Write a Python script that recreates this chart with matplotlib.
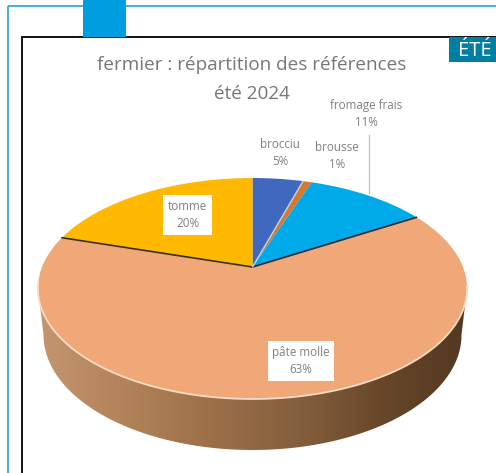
import numpy as np
import matplotlib
matplotlib.use("Agg")
import matplotlib.pyplot as plt
from matplotlib.colors import LinearSegmentedColormap
from matplotlib.patches import Polygon, Rectangle
from matplotlib.transforms import Transform

plt.rcParams['font.family'] = ['Open Sans', 'DejaVu Sans']

categories = ['brocciu', 'brousse', 'fromage frais', 'pâte molle', 'tomme']
# the labels show them rounded
shares = [4.6, 0.8, 11.0, 63.3, 20.3]
shown = [5, 1, 11, 63, 20]
colors = ['#4068BE', '#D9772F', '#00A9E8', '#F0A878', '#FFB900']
title_lines = ['fermier : répartition des références', 'été 2024']

# where the tilted pie sits in the page, in pixels
APEX_X, APEX_Y = 252.5, 267
RX, RY, TILT = 210.5, 106.3, 0.1946


class TiltTransform(Transform):
    """Perspective view of the unit circle, seen from the front."""
    input_dims = output_dims = 2

    def transform_non_affine(self, values):
        x, y = values[:, 0], values[:, 1]
        w = 1 + TILT * y
        return np.column_stack([APEX_X + RX * x / w, APEX_Y - RY * y / w])


def tilt_point(angle):
    # angle in degrees, clockwise from twelve o'clock
    a = np.radians(angle)
    return TiltTransform().transform(np.array([[np.sin(a), np.cos(a)]]))[0]


fig = plt.figure(figsize=(4.96, 4.73), dpi=100)
ax = fig.add_axes([0, 0, 1, 1])

# side wall of the pie with its left to right shading
wall_cmap = LinearSegmentedColormap.from_list(
    'wall', ['#C49670', '#B28358', '#9C7049', '#85603E', '#684729', '#543822'])
t = np.linspace(np.pi, 2 * np.pi, 120)
wall_pts = np.column_stack([252.5 + 209 * np.cos(t), 335 - 115 * np.sin(t)])
wall_pts = np.vstack([[38, 288], wall_pts, [467, 288]])
wall = Polygon(wall_pts, closed=True, fc='none', ec='none')
ax.add_patch(wall)
grad = ax.imshow(np.linspace(0, 1, 256).reshape(1, -1), cmap=wall_cmap, aspect='auto',
                 extent=(38, 467, 452, 285), zorder=1)
grad.set_clip_path(wall)

wedges, _ = ax.pie(shares, colors=colors, startangle=90, counterclock=False,
                   wedgeprops={'linewidth': 0})
tilt = TiltTransform()
for w in wedges:
    w.set_transform(tilt + ax.transData)
    w.set_zorder(2)

# page furniture around the chart
ax.add_patch(Rectangle((8, 6), 600, 600, fc='none', ec='#22A5C8', lw=1.2, zorder=0))
ax.add_patch(Rectangle((83, -2), 43, 39, fc='#009DE0', ec='none', zorder=3))
ax.add_patch(Rectangle((21.5, 37.5), 600, 600, fc='white', ec='#111111', lw=1.4, zorder=0.5))
ax.add_patch(Rectangle((449, 37), 60, 25, fc='#007FA3', ec='none', zorder=3))
ax.text(458, 51, 'ÉTÉ', color='white', fontsize=14.5, va='center', ha='left', zorder=4,
        clip_on=True)

# slice separators
cuts = np.cumsum(shares) * 3.6
for angle, col, lw in [(cuts[2], '#1A2A33', 1.2), (cuts[3], '#3A3010', 1.2),
                       (cuts[0], '#BFD8E8', 1.0)]:
    px, py = tilt_point(angle)
    ax.plot([APEX_X, px], [APEX_Y, py], color=col, lw=lw, zorder=3, solid_capstyle='round')

# pale rim on the front of the top face
rim = np.array([tilt_point(a) for a in np.linspace(100, 262, 120)])
ax.plot(rim[:, 0], rim[:, 1], color='#F8DCC4', lw=1.3, zorder=3)

ax.text(252, 65.5, title_lines[0], color='#777777', fontsize=13.6, ha='center', va='center')
ax.text(252, 94, title_lines[1], color='#777777', fontsize=13.6, ha='center', va='center')

label_kw = dict(color='#808080', fontsize=8.4, ha='center', va='center', linespacing=1.45, zorder=5)
ax.text(280, 153, f'{categories[0]}\n{shown[0]}%', **label_kw)
ax.text(337, 156, f'{categories[1]}\n{shown[1]}%', **label_kw)
ax.text(366, 114, f'{categories[2]}\n{shown[2]}%', **label_kw)
ax.plot([369, 369], [135, 193], color='#BBBBBB', lw=0.8, zorder=1.5)

box_kw = dict(boxstyle='square,pad=0.4', fc='white', ec='none')
ax.text(187.5, 215, f'{categories[4]}\n{shown[4]}%', bbox=box_kw, **label_kw)
ax.text(301, 361, f'{categories[3]}\n{shown[3]}%', bbox=box_kw, **label_kw)

ax.set_aspect('auto')
ax.set_xlim(0, 496)
ax.set_ylim(473, 0)
ax.set_axis_off()

fig.savefig('out.png', dpi=100)
